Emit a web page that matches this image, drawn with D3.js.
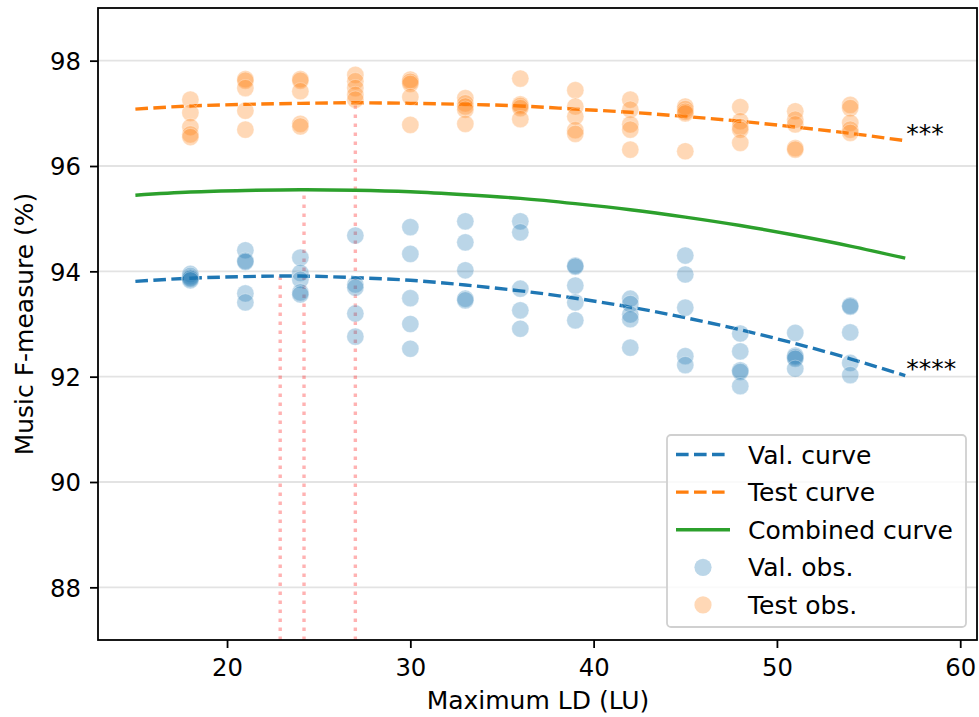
<!DOCTYPE html>
<html><head><meta charset="utf-8">
<script src="https://cdn.jsdelivr.net/npm/d3@7"></script>
<style>
html,body{margin:0;padding:0;background:#fff;}
svg text{font-family:"DejaVu Sans",sans-serif;fill:#000;}
</style></head>
<body><svg id="chart" width="979" height="717"></svg>
<script>
// ---- data ----
const ldValues = [18, 21, 24, 27, 30, 33, 36, 39, 42, 45, 48, 51, 54];
const valObs = [
  [93.95, 93.91, 93.88, 93.86, 93.83],
  [94.40, 94.20, 94.18, 93.58, 93.41],
  [94.26, 93.97, 93.84, 93.60, 93.56],
  [94.68, 93.75, 93.69, 93.20, 92.76],
  [94.84, 94.33, 93.49, 93.00, 92.53],
  [94.95, 94.55, 94.02, 93.48, 93.45],
  [94.95, 94.74, 93.67, 93.26, 92.91],
  [94.11, 94.09, 93.73, 93.41, 93.07],
  [93.48, 93.38, 93.18, 93.09, 92.55],
  [94.30, 93.94, 93.31, 92.39, 92.22],
  [92.82, 92.48, 92.12, 92.09, 91.82],
  [92.83, 92.40, 92.37, 92.34, 92.15],
  [93.35, 93.33, 92.84, 92.26, 92.03]
];
const testObs = [
  [97.26, 97.01, 96.74, 96.60, 96.55],
  [97.65, 97.62, 97.48, 97.05, 96.69],
  [97.65, 97.62, 97.42, 96.80, 96.75],
  [97.73, 97.61, 97.48, 97.35, 97.26],
  [97.64, 97.60, 97.56, 97.31, 96.78],
  [97.29, 97.19, 97.13, 97.07, 96.80],
  [97.66, 97.17, 97.14, 97.10, 96.89],
  [97.44, 97.13, 96.94, 96.68, 96.61],
  [97.26, 97.07, 96.79, 96.69, 96.31],
  [97.13, 97.08, 97.03, 97.00, 96.28],
  [97.12, 96.85, 96.74, 96.69, 96.44],
  [97.04, 96.88, 96.79, 96.34, 96.31],
  [97.16, 97.10, 96.82, 96.69, 96.63]
];
const curveX = [15, 18, 21, 24, 27, 30, 33, 36, 39, 42, 45, 48, 51, 54, 57];
const valCurve = [93.81, 93.87, 93.90, 93.91, 93.88, 93.83, 93.74, 93.63, 93.49, 93.32, 93.12, 92.89, 92.63, 92.34, 92.02];
const testCurve = [97.08, 97.14, 97.17, 97.19, 97.20, 97.19, 97.17, 97.14, 97.08, 97.02, 96.94, 96.85, 96.74, 96.62, 96.48];
const combinedCurve = [95.445, 95.505, 95.535, 95.55, 95.54, 95.51, 95.455, 95.385, 95.285, 95.17, 95.03, 94.87, 94.685, 94.48, 94.25];
const optimaX = [22.9, 24.2, 27.0];
const optimaY = [93.91, 95.55, 97.20];
const xTicks = [20, 30, 40, 50, 60];
const yTicks = [88, 90, 92, 94, 96, 98];
const sigLabels = ["****", "***"];
const legendLabels = ["Val. curve", "Test curve", "Combined curve", "Val. obs.", "Test obs."];

// ---- layout ----
const W = 979, H = 717;
const m = {left: 98, top: 8, right: 1, bottom: 77};
const svg = d3.select("#chart");
const x = d3.scaleLinear().domain([12.96, 60.97]).range([m.left, W - m.right]);
const y = d3.scaleLinear().domain([87, 99]).range([H - m.bottom, m.top]);
const C0 = "#1f77b4", C1 = "#ff7f0e", C2 = "#2ca02c";
const FS = 24.3, FL = 25;
const LW = 3.4;

// grid
svg.append("g").selectAll("line").data(yTicks).join("line")
  .attr("x1", m.left).attr("x2", W - m.right)
  .attr("y1", d => y(d)).attr("y2", d => y(d))
  .attr("stroke", "#e3e3e3").attr("stroke-width", 1.8);

const clip = svg.append("clipPath").attr("id", "clip").append("rect")
  .attr("x", m.left).attr("y", m.top).attr("width", W - m.left - m.right).attr("height", H - m.top - m.bottom);
const plot = svg.append("g").attr("clip-path", "url(#clip)");

// optimum vertical lines
plot.selectAll("line.opt").data(optimaX).join("line").attr("class", "opt")
  .attr("x1", d => x(d)).attr("x2", d => x(d))
  .attr("y1", y(87)).attr("y2", (d, i) => y(optimaY[i]))
  .attr("stroke", "red").attr("stroke-opacity", 0.3)
  .attr("stroke-width", LW).attr("stroke-dasharray", "3.4 5.6");

// curves
const line = d3.line().x((d, i) => x(curveX[i])).y(d => y(d)).curve(d3.curveNatural);
plot.append("path").datum(valCurve).attr("d", line).attr("fill", "none")
  .attr("stroke", C0).attr("stroke-width", LW).attr("stroke-dasharray", "12.6 5.4");
plot.append("path").datum(testCurve).attr("d", line).attr("fill", "none")
  .attr("stroke", C1).attr("stroke-width", LW).attr("stroke-dasharray", "12.6 5.4");
plot.append("path").datum(combinedCurve).attr("d", line).attr("fill", "none")
  .attr("stroke", C2).attr("stroke-width", LW);

// scatter
function flat(obs) {
  const out = [];
  obs.forEach((vals, i) => vals.forEach(v => out.push({x: ldValues[i], v})));
  return out;
}
plot.append("g").selectAll("circle").data(flat(valObs)).join("circle")
  .attr("cx", d => x(d.x)).attr("cy", d => y(d.v)).attr("r", 8.6)
  .attr("fill", C0).attr("fill-opacity", 0.3)
  .attr("stroke", "#fff").attr("stroke-opacity", 0.3).attr("stroke-width", 1);
plot.append("g").selectAll("circle").data(flat(testObs)).join("circle")
  .attr("cx", d => x(d.x)).attr("cy", d => y(d.v)).attr("r", 8.6)
  .attr("fill", C1).attr("fill-opacity", 0.3)
  .attr("stroke", "#fff").attr("stroke-opacity", 0.3).attr("stroke-width", 1);

// significance labels
const ends = [valCurve[valCurve.length - 1], testCurve[testCurve.length - 1]];
svg.selectAll("text.sig").data(sigLabels).join("text").attr("class", "sig")
  .attr("x", x(curveX[curveX.length - 1]) + 1)
  .attr("y", (d, i) => y(ends[i]) + 1)
  .attr("font-size", FL).text(d => d);

// axes
const xAxis = d3.axisBottom(x).tickValues(xTicks).tickSize(8).tickPadding(10).tickFormat(d3.format("d"));
const gx = svg.append("g").attr("transform", `translate(0,${H - m.bottom})`).call(xAxis);
const yAxis = d3.axisLeft(y).tickValues(yTicks).tickSize(8).tickPadding(9).tickFormat(d3.format("d"));
const gy = svg.append("g").attr("transform", `translate(${m.left},0)`).call(yAxis);
[gx, gy].forEach(g => {
  g.select(".domain").remove();
  g.selectAll(".tick line").attr("stroke", "#000").attr("stroke-width", 1.8);
  g.selectAll(".tick text").attr("font-size", FS).attr("font-family", "DejaVu Sans").attr("fill", "#000");
});
gy.selectAll(".tick text").attr("dy", "0.36em");
gx.selectAll(".tick text").attr("dy", "0.76em");

// frame
svg.append("rect").attr("x", m.left).attr("y", m.top)
  .attr("width", W - m.left - m.right - 1).attr("height", H - m.top - m.bottom)
  .attr("fill", "none").attr("stroke", "#000").attr("stroke-width", 1.8);

// axis labels
svg.append("text").attr("x", (m.left + W - m.right) / 2).attr("y", 709)
  .attr("text-anchor", "middle").attr("font-size", FL).text("Maximum LD (LU)");
svg.append("text").attr("transform", `translate(33,${(m.top + H - m.bottom) / 2}) rotate(-90)`)
  .attr("text-anchor", "middle").attr("font-size", FL).text("Music F-measure (%)");

// legend
const lg = svg.append("g");
lg.append("rect").attr("x", 667).attr("y", 435).attr("width", 299).attr("height", 192)
  .attr("rx", 4).attr("fill", "#fff").attr("fill-opacity", 0.8)
  .attr("stroke", "#d0d0d0").attr("stroke-width", 1.8);
const rowY = i => 454.5 + i * 37.6;
const lineStyles = [
  {c: C0, dash: "12.6 5.4"}, {c: C1, dash: "12.6 5.4"}, {c: C2, dash: null}
];
lineStyles.forEach((s, i) => {
  const l = lg.append("line").attr("x1", 676).attr("x2", 730)
    .attr("y1", rowY(i)).attr("y2", rowY(i))
    .attr("stroke", s.c).attr("stroke-width", LW);
  if (s.dash) l.attr("stroke-dasharray", s.dash);
});
[C0, C1].forEach((c, j) => {
  lg.append("circle").attr("cx", 703).attr("cy", rowY(3 + j)).attr("r", 8.6)
    .attr("fill", c).attr("fill-opacity", 0.3);
});
lg.selectAll("text").data(legendLabels).join("text")
  .attr("x", 748).attr("y", (d, i) => rowY(i) + 9)
  .attr("font-size", FL).text(d => d);
</script></body></html>
